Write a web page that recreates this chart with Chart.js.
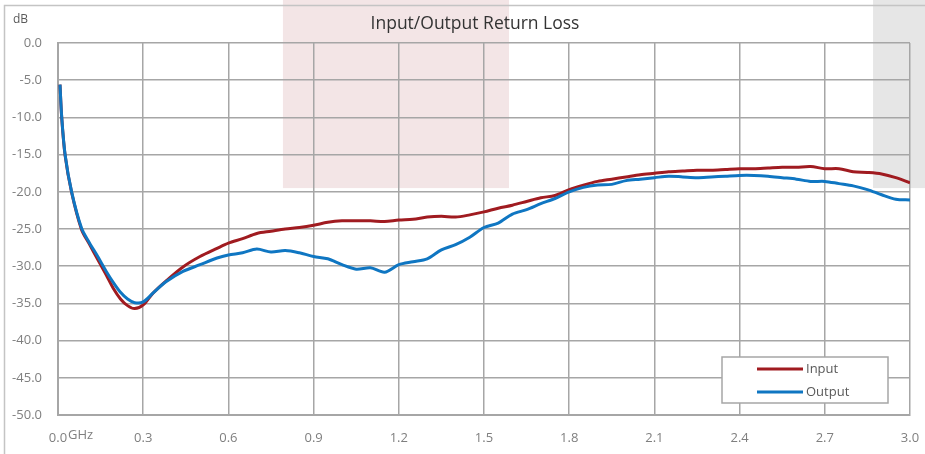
<!DOCTYPE html>
<html>
<head>
<meta charset="utf-8">
<title>Input/Output Return Loss</title>
<script src="https://cdn.jsdelivr.net/npm/chart.js@4.4.0/dist/chart.umd.min.js"></script>
<style>
    html, body { margin: 0; padding: 0; background: #fff; }
    canvas { display: block; }
</style>
</head>
<body>
<canvas id="chart" width="925" height="454"></canvas>
<script>
// frequency points (GHz)
const freqGHz = [0.007, 0.013, 0.025, 0.048, 0.083, 0.11, 0.14, 0.17, 0.195, 0.22, 0.245, 0.27, 0.3,
    0.335, 0.38, 0.44, 0.5, 0.56, 0.6, 0.65, 0.7, 0.75, 0.8, 0.85, 0.9, 0.95, 1.0, 1.05, 1.1, 1.15,
    1.2, 1.25, 1.3, 1.35, 1.4, 1.45, 1.5, 1.55, 1.6, 1.65, 1.7, 1.75, 1.8, 1.85, 1.9, 1.95, 2.0,
    2.05, 2.1, 2.15, 2.2, 2.25, 2.3, 2.35, 2.4, 2.45, 2.5, 2.55, 2.6, 2.65, 2.7, 2.75, 2.8, 2.85,
    2.9, 2.95, 3.0];

const inputDb = [-5.6, -10.0, -15.1, -20.1, -25.1, -27.0, -29.1, -31.2, -33.0, -34.4, -35.3, -35.7, -35.2,
    -33.6, -32.0, -30.1, -28.7, -27.6, -26.9, -26.3, -25.6, -25.3, -25.0, -24.8, -24.5, -24.1, -23.9, -23.9, -23.9, -24.0,
    -23.8, -23.7, -23.4, -23.3, -23.4, -23.1, -22.7, -22.2, -21.8, -21.3, -20.8, -20.5, -19.7, -19.1, -18.6, -18.3, -18.0,
    -17.7, -17.5, -17.3, -17.2, -17.1, -17.1, -17.0, -16.9, -16.9, -16.8, -16.7, -16.7, -16.6, -16.9, -16.9, -17.3, -17.4,
    -17.6, -18.1, -18.8];

const outputDb = [-5.6, -9.9, -15.0, -20.0, -24.9, -26.8, -28.7, -30.7, -32.2, -33.5, -34.4, -34.9, -34.8,
    -33.6, -32.1, -30.7, -29.8, -28.9, -28.5, -28.2, -27.7, -28.1, -27.9, -28.2, -28.7, -29.0, -29.8, -30.4, -30.2, -30.8,
    -29.8, -29.4, -29.0, -27.8, -27.1, -26.1, -24.8, -24.2, -23.0, -22.4, -21.6, -20.9, -20.0, -19.4, -19.1, -19.0, -18.5,
    -18.3, -18.1, -17.9, -18.0, -18.1, -18.0, -17.9, -17.8, -17.8, -17.9, -18.1, -18.3, -18.6, -18.6, -18.9, -19.2, -19.7,
    -20.4, -21.0, -21.1];

const xTicks = [0, 0.3, 0.6, 0.9, 1.2, 1.5, 1.8, 2.1, 2.4, 2.7, 3.0];
const seriesNames = ['Input', 'Output'];
const seriesColors = ['#A01B20', '#0F76C2'];

// shaded highlight bands behind the plot
const pinkBand = [0.792, 1.588];
const grayBandStart = 2.87;
const bandBottomDb = -19.5;

const gridColor = '#A6A6A6';
const tickColor = '#7F7F7F';
const FONT = '"Open Sans", "Liberation Sans", sans-serif';

const decor = {
    id: 'decor',
    beforeDraw(chart) {
        const { ctx, scales: { x, y } } = chart;
        ctx.save();
        ctx.fillStyle = '#fff';
        ctx.fillRect(0, 0, chart.width, chart.height);
        const yb = y.getPixelForValue(bandBottomDb);
        const p0 = x.getPixelForValue(pinkBand[0]);
        const p1 = x.getPixelForValue(pinkBand[1]);
        ctx.fillStyle = '#F3E5E6';
        ctx.fillRect(p0, 0, p1 - p0, yb);
        const g0 = x.getPixelForValue(grayBandStart);
        ctx.fillStyle = '#E6E6E6';
        ctx.fillRect(g0, 0, chart.width - g0, yb);
        // outer frame of the picture
        ctx.strokeStyle = '#C4C4C4';
        ctx.lineWidth = 1.5;
        ctx.strokeRect(4.5, 5.5, chart.width + 20, chart.height + 20);
        ctx.restore();
    },
    afterDraw(chart) {
        const { ctx, chartArea: a } = chart;
        ctx.save();
        // title
        ctx.fillStyle = '#333';
        ctx.font = '17.5px ' + FONT;
        ctx.textAlign = 'center';
        ctx.textBaseline = 'middle';
        ctx.fillText('Input/Output Return Loss', (a.left + a.right) / 2 - 9, 24);
        // axis units
        ctx.fillStyle = '#595959';
        ctx.font = '12px ' + FONT;
        ctx.textAlign = 'left';
        ctx.fillText('dB', 13, 20);
        ctx.fillStyle = tickColor;
        ctx.font = '13px ' + FONT;
        ctx.fillText('GHz', a.left + 10, a.bottom + 20);
        // legend box
        const lx = a.right - 188, ly = a.bottom - 58, lw = 166, lh = 46;
        ctx.fillStyle = '#fff';
        ctx.fillRect(lx, ly, lw, lh);
        ctx.strokeStyle = gridColor;
        ctx.lineWidth = 1.5;
        ctx.strokeRect(lx, ly, lw, lh);
        ctx.font = '13px ' + FONT;
        seriesNames.forEach((name, i) => {
            const yy = ly + 12 + i * 23;
            ctx.strokeStyle = seriesColors[i];
            ctx.lineWidth = 3;
            ctx.beginPath();
            ctx.moveTo(lx + 35, yy);
            ctx.lineTo(lx + 81, yy);
            ctx.stroke();
            ctx.fillStyle = '#595959';
            ctx.fillText(name, lx + 84, yy);
        });
        ctx.restore();
    }
};

const toPoints = (ys) => ys.map((v, i) => ({ x: freqGHz[i], y: v }));

new Chart(document.getElementById('chart'), {
    type: 'line',
    data: {
        datasets: [
            {
                label: seriesNames[0],
                data: toPoints(inputDb),
                borderColor: seriesColors[0],
                borderWidth: 3,
                pointRadius: 0,
                tension: 0.3,
                order: 1
            },
            {
                label: seriesNames[1],
                data: toPoints(outputDb),
                borderColor: seriesColors[1],
                borderWidth: 3,
                pointRadius: 0,
                tension: 0.3,
                order: 0
            }
        ]
    },
    options: {
        responsive: false,
        animation: false,
        layout: { padding: { top: 43, right: 0, left: 0, bottom: 0 } },
        plugins: {
            legend: { display: false },
            title: { display: false },
            tooltip: { enabled: false }
        },
        scales: {
            x: {
                type: 'linear',
                min: 0,
                max: 3,
                afterBuildTicks: s => { s.ticks = xTicks.map(v => ({ value: v })); },
                afterFit: s => { s.height = 39; s.paddingRight = 15; s.paddingLeft = 0; },
                grid: { color: gridColor, lineWidth: 1.5, drawTicks: false },
                border: { color: gridColor, width: 2 },
                ticks: {
                    color: tickColor,
                    font: { family: FONT, size: 13 },
                    padding: 15,
                    maxRotation: 0,
                    callback: v => v.toFixed(1)
                }
            },
            y: {
                min: -50,
                max: 0,
                afterFit: s => { s.width = 58; },
                grid: { color: gridColor, lineWidth: 1.5, drawTicks: false },
                border: { color: gridColor, width: 2 },
                ticks: {
                    stepSize: 5,
                    color: tickColor,
                    font: { family: FONT, size: 13 },
                    padding: 16,
                    callback: v => v.toFixed(1)
                }
            }
        }
    },
    plugins: [decor]
});
</script>
</body>
</html>
